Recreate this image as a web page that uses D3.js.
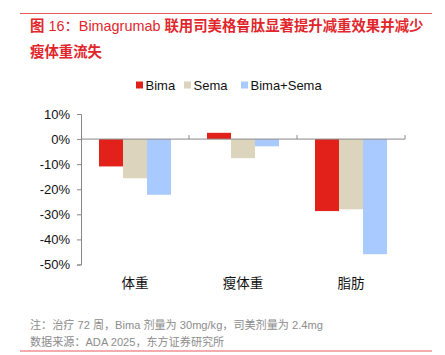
<!DOCTYPE html>
<html><head><meta charset="utf-8">
<script src="https://cdn.jsdelivr.net/npm/d3@7"></script>
<style>
html,body{margin:0;padding:0;background:#fff;}
svg{display:block;}
text{font-family:"Liberation Sans","Noto Sans CJK SC",sans-serif;}
</style></head>
<body>
<svg id="c" width="445" height="355"></svg>
<script>
const categories = ["体重", "瘦体重", "脂肪"];
const seriesNames = ["Bima", "Sema", "Bima+Sema"];
const bima = [-10.9, 2.5, -28.7];
const sema = [-15.6, -7.6, -28.0];
const bimaSema = [-22.2, -2.9, -45.9];
const yTicks = [10, 0, -10, -20, -30, -40, -50];
const colors = ["#e3211b", "#ddd4bd", "#a9caff"];
const titleParts = [
  [["图", true], [" 16：", false], ["Bimagrumab ", false], ["联用司美格鲁肽显著提升减重效果并减少", true]],
  [["瘦体重流失", true]]
];
const notes = ["注：治疗 72 周，Bima 剂量为 30mg/kg，司美剂量为 2.4mg", "数据来源：ADA 2025，东方证券研究所"];

const series = [bima, sema, bimaSema];
const svg = d3.select("#c");

// frame lines
svg.append("line").attr("x1",20).attr("x2",432).attr("y1",13.5).attr("y2",13.5).attr("stroke","#e8595c").attr("stroke-width",1);
svg.append("line").attr("x1",20).attr("x2",432).attr("y1",351).attr("y2",351).attr("stroke","#e8595c").attr("stroke-width",1);

// title
titleParts.forEach((parts,i)=>{
  const t = svg.append("text").attr("x",30).attr("y",30.5+i*26).attr("fill","#e0262b").attr("font-size",14.4);
  parts.forEach(([s,b])=>{
    t.append("tspan").attr("font-weight", b ? "bold" : "normal")
      .style("font-family", b ? '"Noto Sans CJK SC",sans-serif' : '"Liberation Sans","Noto Sans CJK SC",sans-serif')
      .text(s);
  });
});

// scales
const x0 = d3.scaleBand().domain(categories).range([81,405]).paddingInner(0).paddingOuter(0);
const x1 = d3.scaleBand().domain(seriesNames).range([0, x0.bandwidth()]).paddingInner(0).paddingOuter(0.75);
const y = d3.scaleLinear().domain([-50,10]).range([264.5,114]);

// y axis
const yAxis = d3.axisLeft(y).tickValues(yTicks).tickSize(4).tickPadding(7).tickFormat(d=>d+"%");
const gy = svg.append("g").attr("transform","translate(81,0)").call(yAxis);
gy.select(".domain").attr("stroke","#888");
gy.selectAll(".tick line").attr("stroke","#888");
gy.selectAll(".tick text").attr("font-size",13).attr("fill","#111").style("font-family",'"Liberation Sans",sans-serif');

// bars
seriesNames.forEach((s,si)=>{
  svg.append("g").selectAll("rect").data(categories).join("rect")
    .attr("x",(c)=>x0(c)+x1(s))
    .attr("width",x1.bandwidth())
    .attr("y",(c,i)=>y(Math.max(0,series[si][i])))
    .attr("height",(c,i)=>Math.abs(y(series[si][i])-y(0)))
    .attr("fill",colors[si]);
});

// x axis at zero
const gx = svg.append("g").attr("transform",`translate(0,${y(0)})`);
gx.append("path").attr("fill","none").attr("stroke","#888").attr("d",`M81,0H405`);
categories.forEach((c,i)=>{
  const xx = x0(c)+x0.bandwidth();
  gx.append("line").attr("x1",xx).attr("x2",xx).attr("y1",0).attr("y2",-4).attr("stroke","#888");
});

// category labels
svg.append("g").selectAll("text").data(categories).join("text")
  .attr("x",c=>x0(c)+x0.bandwidth()/2).attr("y",288)
  .attr("text-anchor","middle").attr("font-size",13.5).attr("fill","#111")
  .style("font-family",'"Noto Sans CJK SC",sans-serif')
  .text(c=>c);

// legend
const legX = [136, 184, 241];
seriesNames.forEach((s,i)=>{
  svg.append("rect").attr("x",legX[i]).attr("y",81.5).attr("width",7).attr("height",7).attr("fill",colors[i]);
  svg.append("text").attr("x",legX[i]+9.5).attr("y",89.5).attr("font-size",13).attr("fill","#111").text(s);
});

// notes
notes.forEach((t,i)=>{
  svg.append("text").attr("x",30).attr("y",329+i*17).attr("font-size",11.1).attr("fill","#8c8c8c").text(t);
});
</script>
</body></html>
